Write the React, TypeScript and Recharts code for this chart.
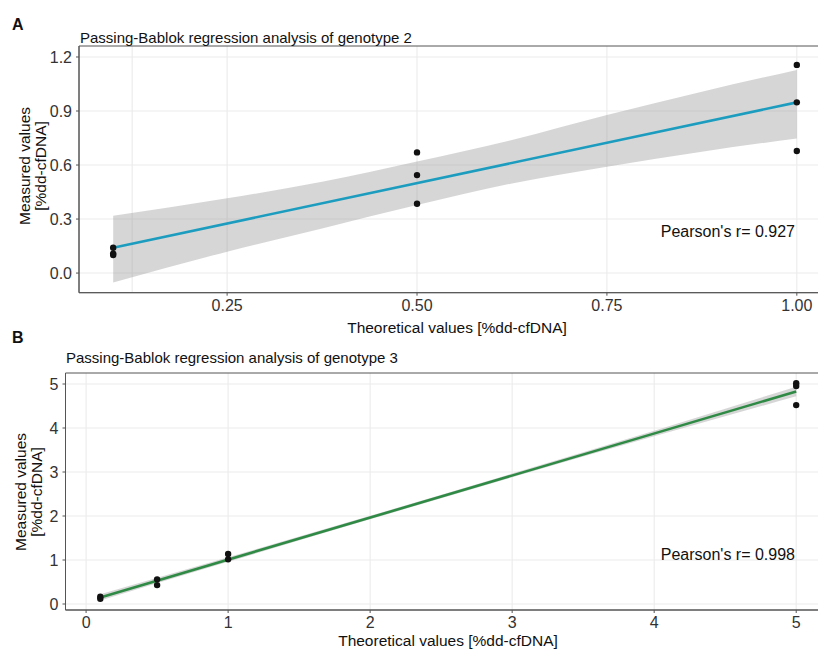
import React from 'react';
import {
  ComposedChart,
  Area,
  Line,
  Scatter,
  XAxis,
  YAxis,
  CartesianGrid,
  ReferenceArea,
} from 'recharts';

// ---- genotype 2 (panel A) ----
const A_X_TICKS = [0.25, 0.5, 0.75, 1.0];
const A_X_MINOR = [0.125, 0.375, 0.625, 0.875];
const A_Y_TICKS = [0, 0.3, 0.6, 0.9, 1.2];
const A_Y_MINOR = [0.15, 0.45, 0.75, 1.05];
const A_POINTS_X = [0.1, 0.1, 0.1, 0.5, 0.5, 0.5, 1.0, 1.0, 1.0];
const A_POINTS_Y = [0.141, 0.1, 0.108, 0.67, 0.544, 0.385, 1.156, 0.948, 0.678];
const A_BAND_X = [0.1, 0.25, 0.375, 0.5, 0.625, 0.75, 0.875, 1.0];
const A_BAND_LOW = [-0.052, 0.119, 0.248, 0.378, 0.498, 0.591, 0.674, 0.748];
const A_BAND_HIGH = [0.319, 0.415, 0.507, 0.619, 0.739, 0.878, 1.007, 1.128];
const A_FIT_X = [0.1, 1.0];
const A_FIT_Y = [0.141, 0.948];

// ---- genotype 3 (panel B) ----
const B_X_TICKS = [0, 1, 2, 3, 4, 5];
const B_X_MINOR = [0.5, 1.5, 2.5, 3.5, 4.5];
const B_Y_TICKS = [0, 1, 2, 3, 4, 5];
const B_Y_MINOR = [0.5, 1.5, 2.5, 3.5, 4.5];
const B_POINTS_X = [0.1, 0.1, 0.5, 0.5, 1, 1, 5, 5, 5];
const B_POINTS_Y = [0.166, 0.12, 0.56, 0.43, 1.136, 1.015, 5.016, 4.955, 4.52];
const B_BAND_X = [0.1, 1, 2, 3, 4, 5];
const B_BAND_LOW = [0.08, 0.96, 1.925, 2.88, 3.81, 4.72];
const B_BAND_HIGH = [0.22, 1.06, 2.005, 2.965, 3.94, 4.94];
const B_FIT_X = [0.1, 5];
const B_FIT_Y = [0.15, 4.83];

const FONT = '"Liberation Sans", Arial, sans-serif';

function buildTable(bx: number[], lo: number[], hi: number[], fx: number[], fy: number[]) {
  return bx.map((x, i) => {
    const k = fx.indexOf(x);
    return { x, band: [lo[i], hi[i]], fit: k >= 0 ? fy[k] : null };
  });
}

function buildPoints(xs: number[], ys: number[]) {
  return xs.map((x, i) => ({ x, y: ys[i] }));
}

const Dot = (props: any) => <circle cx={props.cx} cy={props.cy} r={3.2} fill="#111" />;

type PanelProps = {
  table: any[];
  points: { x: number; y: number }[];
  xDomain: [number, number];
  yDomain: [number, number];
  xTicks: number[];
  yTicks: number[];
  xMinor: number[];
  yMinor: number[];
  xFmt: (v: number) => string;
  yFmt: (v: number) => string;
  lineColor: string;
  margin: { top: number; right: number; bottom: number; left: number };
  yAxisWidth: number;
};

const Panel: React.FC<PanelProps> = (p) => {
  const tick = { fontFamily: FONT, fontSize: 16, fill: '#333' };
  return (
    <ComposedChart width={840} height={326} data={p.table} margin={p.margin}>
      <CartesianGrid
        stroke="#ebebeb"
        strokeWidth={1.1}
        horizontalValues={[...p.yMinor, ...p.yTicks]}
        verticalValues={[...p.xMinor, ...p.xTicks]}
      />
      <XAxis
        dataKey="x"
        type="number"
        domain={p.xDomain}
        ticks={p.xTicks}
        tickFormatter={p.xFmt}
        allowDataOverflow
        height={30}
        tickSize={3}
        tickMargin={4}
        tick={tick}
        stroke="#555"
      />
      <YAxis
        dataKey="y"
        type="number"
        domain={p.yDomain}
        ticks={p.yTicks}
        tickFormatter={p.yFmt}
        allowDataOverflow
        width={p.yAxisWidth}
        tickSize={3}
        tickMargin={4}
        tick={tick}
        stroke="#555"
      />
      <Area
        dataKey="band"
        type="monotone"
        fill="#999999"
        fillOpacity={0.4}
        stroke="none"
        isAnimationActive={false}
      />
      <Line
        dataKey="fit"
        type="linear"
        stroke={p.lineColor}
        strokeWidth={2.6}
        dot={false}
        connectNulls
        isAnimationActive={false}
      />
      <Scatter data={p.points} dataKey="y" shape={Dot} isAnimationActive={false} />
      <ReferenceArea
        x1={p.xDomain[0]}
        x2={p.xDomain[1]}
        y1={p.yDomain[0]}
        y2={p.yDomain[1]}
        fill="none"
        stroke="#555"
        strokeWidth={1}
      />
    </ComposedChart>
  );
};

const abs = (s: React.CSSProperties): React.CSSProperties => ({ position: 'absolute', whiteSpace: 'nowrap', ...s });

const YTitle: React.FC<{ cx: number; cy: number }> = ({ cx, cy }) => (
  <div
    style={abs({
      left: cx,
      top: cy,
      transform: 'translate(-50%, -50%) rotate(-90deg)',
      textAlign: 'center',
      fontSize: 15.5,
      lineHeight: '16px',
      color: '#111',
    })}
  >
    Measured values
    <br />
    [%dd-cfDNA]
  </div>
);

export default function App() {
  const tableA = buildTable(A_BAND_X, A_BAND_LOW, A_BAND_HIGH, A_FIT_X, A_FIT_Y);
  const tableB = buildTable(B_BAND_X, B_BAND_LOW, B_BAND_HIGH, B_FIT_X, B_FIT_Y);
  const pointsA = buildPoints(A_POINTS_X, A_POINTS_Y);
  const pointsB = buildPoints(B_POINTS_X, B_POINTS_Y);

  return (
    <div
      style={{
        position: 'fixed',
        left: 0,
        top: 0,
        width: 818,
        height: 652,
        overflow: 'hidden',
        background: '#fff',
        fontFamily: FONT,
        color: '#111',
      }}
    >
      {/* Panel A */}
      <div style={{ position: 'absolute', left: 0, top: 0 }}>
        <Panel
          table={tableA}
          points={pointsA}
          xDomain={[0.055, 1.045]}
          yDomain={[-0.109, 1.261]}
          xTicks={A_X_TICKS}
          yTicks={A_Y_TICKS}
          xMinor={A_X_MINOR}
          yMinor={A_Y_MINOR}
          xFmt={(v) => v.toFixed(2)}
          yFmt={(v) => v.toFixed(1)}
          lineColor="#1c9dbf"
          margin={{ top: 46, right: 9, bottom: 3.3, left: 39 }}
          yAxisWidth={40}
        />
      </div>
      <div style={abs({ left: 12, top: 16, fontSize: 16, fontWeight: 'bold', lineHeight: '18px' })}>A</div>
      <div style={abs({ left: 80, top: 29, fontSize: 15, lineHeight: '18px' })}>
        Passing-Bablok regression analysis of genotype 2
      </div>
      <YTitle cx={32.5} cy={166} />
      <div style={abs({ left: 457, top: 319, transform: 'translateX(-50%)', fontSize: 15.5, lineHeight: '18px' })}>
        Theoretical values [%dd-cfDNA]
      </div>
      <div style={abs({ right: 23, top: 223, fontSize: 16, lineHeight: '18px' })}>Pearson's r= 0.927</div>

      {/* Panel B */}
      <div style={{ position: 'absolute', left: 0, top: 326 }}>
        <Panel
          table={tableB}
          points={pointsB}
          xDomain={[-0.145, 5.245]}
          yDomain={[-0.136, 5.25]}
          xTicks={B_X_TICKS}
          yTicks={B_Y_TICKS}
          xMinor={B_X_MINOR}
          yMinor={B_Y_MINOR}
          xFmt={(v) => String(v)}
          yFmt={(v) => String(v)}
          lineColor="#2f8a45"
          margin={{ top: 47, right: 9, bottom: 12, left: 35.5 }}
          yAxisWidth={30}
        />
      </div>
      <div style={abs({ left: 12, top: 329, fontSize: 16, fontWeight: 'bold', lineHeight: '18px' })}>B</div>
      <div style={abs({ left: 66, top: 349, fontSize: 15, lineHeight: '18px' })}>
        Passing-Bablok regression analysis of genotype 3
      </div>
      <YTitle cx={28.5} cy={492} />
      <div style={abs({ left: 448, top: 632, transform: 'translateX(-50%)', fontSize: 15.5, lineHeight: '18px' })}>
        Theoretical values [%dd-cfDNA]
      </div>
      <div style={abs({ right: 23, top: 546, fontSize: 16, lineHeight: '18px' })}>Pearson's r= 0.998</div>
    </div>
  );
}
